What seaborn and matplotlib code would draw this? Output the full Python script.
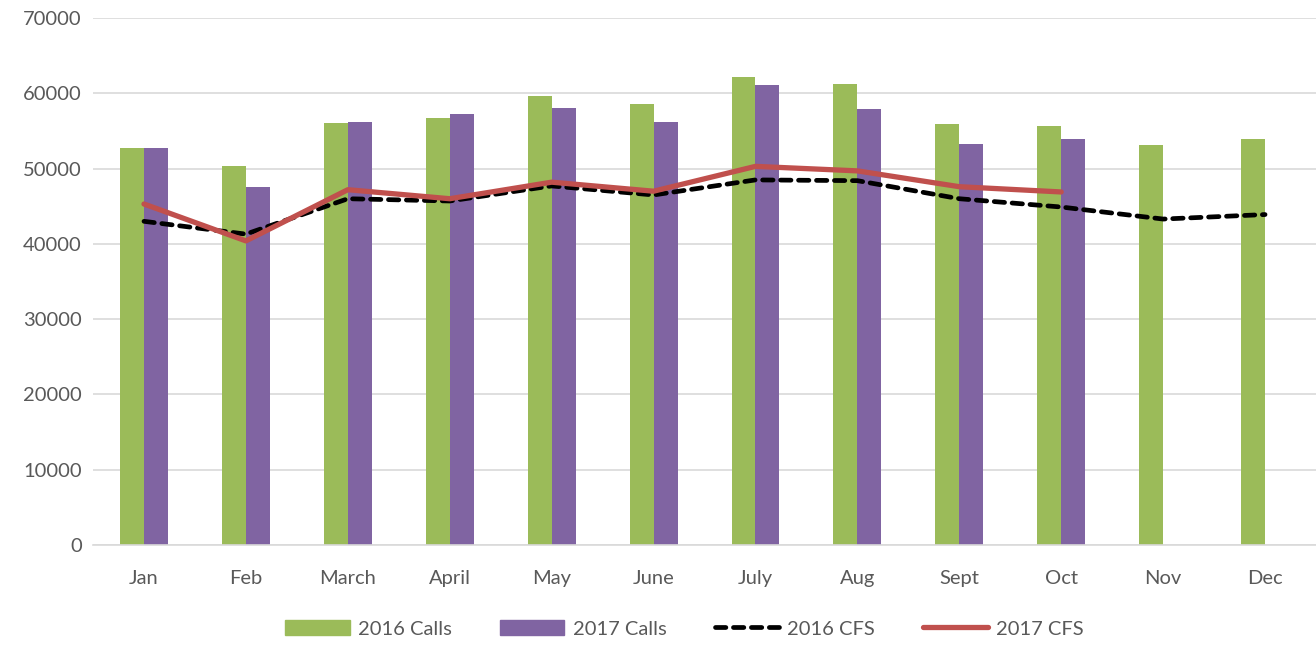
import numpy as np
import pandas as pd
import seaborn as sns
import matplotlib.pyplot as plt
from matplotlib.lines import Line2D
from matplotlib.patches import Patch

months = ["Jan", "Feb", "March", "April", "May", "June", "July", "Aug", "Sept", "Oct", "Nov", "Dec"]
calls_2016 = [52800, 50300, 56000, 56700, 59700, 58600, 62200, 61200, 55900, 55700, 53100, 54000]
calls_2017 = [52700, 47500, 56200, 57300, 58000, 56200, 61100, 57900, 53300, 53900, np.nan, np.nan]
cfs_2016 = [43000, 41300, 46000, 45700, 47700, 46500, 48500, 48400, 46000, 44900, 43300, 43900]
cfs_2017 = [45300, 40400, 47200, 46000, 48200, 47000, 50300, 49700, 47600, 46900, np.nan, np.nan]

green = "#9BBB59"
purple = "#8064A2"
red = "#C0504D"
grey_txt = "#595959"

sns.set_style("white")
plt.rcParams["font.family"] = ["Lato", "DejaVu Sans"]

bars = pd.DataFrame({
    "month": months * 2,
    "calls": calls_2016 + calls_2017,
    "series": ["2016 Calls"] * 12 + ["2017 Calls"] * 12,
})

fig = plt.figure(figsize=(13.16, 6.45), dpi=100)
ax = fig.add_axes([0.0707, 0.155, 0.9293, 0.817])

sns.barplot(data=bars, x="month", y="calls", hue="series", order=months,
            palette=[green, purple], width=0.47, saturation=1, linewidth=0,
            ax=ax, legend=False)

pos = np.arange(len(months))
sns.lineplot(x=pos, y=cfs_2016, ax=ax, color="black", linewidth=3.4,
             linestyle=(0, (2.2, 1.6)), dash_capstyle="round")
sns.lineplot(x=pos, y=cfs_2017, ax=ax, color=red, linewidth=3.8)

ax.set_ylim(0, 70000)
ax.set_xlim(-0.5, 11.5)
ax.set_yticks(range(0, 70001, 10000))
ax.yaxis.grid(True, color="#D9D9D9", linewidth=1.2)
ax.set_axisbelow(True)
for s in ["top", "right", "left"]:
    ax.spines[s].set_visible(False)
ax.spines["bottom"].set_color("#D9D9D9")
ax.spines["bottom"].set_linewidth(1.2)
ax.tick_params(axis="both", length=0, labelsize=14.5, labelcolor=grey_txt)
ax.tick_params(axis="x", pad=18)
ax.tick_params(axis="y", pad=8)
ax.set_xlabel("")
ax.set_ylabel("")

handles = [
    Patch(color=green, label="2016 Calls"),
    Patch(color=purple, label="2017 Calls"),
    Line2D([], [], color="black", linewidth=3.4, linestyle=(0, (2.2, 1.6)),
           dash_capstyle="round", label="2016 CFS"),
    Line2D([], [], color=red, linewidth=3.8, label="2017 CFS"),
]
leg = fig.legend(handles=handles, loc="center", bbox_to_anchor=(0.52, 0.025), ncol=4,
                 frameon=False, fontsize=14.5, handlelength=3.2, handleheight=0.8,
                 columnspacing=2.4, handletextpad=0.4)
for t in leg.get_texts():
    t.set_color(grey_txt)

fig.savefig("out.png", dpi=100)
